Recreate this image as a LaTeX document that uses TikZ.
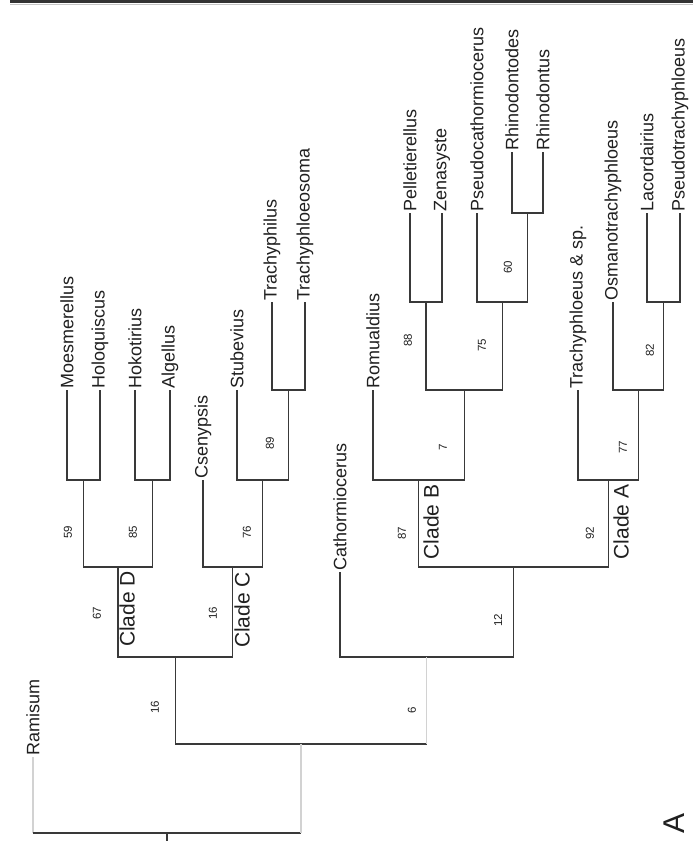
\documentclass[tikz,border=0pt]{standalone}
\usepackage{fontspec}
\setmainfont{Liberation Sans}
\tikzset{
  br/.style={draw=gray!45!black, line width=1.15pt},
  brf/.style={draw=gray!35, line width=1.1pt},
  taxon/.style={rotate=90, anchor=west, inner sep=1pt, font=\fontsize{18}{20}\selectfont, text=gray!25!black},
  boot/.style={rotate=90, inner sep=0pt, font=\fontsize{11.5}{12}\selectfont, text=gray!25!black},
  clade/.style={rotate=90, inner sep=0pt, font=\fontsize{21}{23}\selectfont, text=gray!25!black},
}
\begin{document}
\begin{tikzpicture}[x=1pt,y=-1pt]
\useasboundingbox (0,0) rectangle (693,852);
% top border
\draw[line width=3pt, gray!40!black] (10,1.5) -- (693,1.5);
\draw[line width=0.8pt, gray!45] (10,4.5) -- (693,4.5);

% taxa
\node[taxon] (ram) at (33,757) {Ramisum};
\node[taxon] (t1) at (67,390) {Moesmerellus};
\node[taxon] (t2) at (100,390) {Holoquiscus};
\node[taxon] (t3) at (135,390) {Hokotirius};
\node[taxon] (t4) at (170,390) {Algellus};
\node[taxon] (t5) at (203,480) {Csenypsis};
\node[taxon] (t6) at (237,390) {Stubevius};
\node[taxon] (t7) at (272,302) {Trachyphilus};
\node[taxon] (t8) at (305,302) {Trachyphloeosoma};
\node[taxon] (t9) at (340,572) {Cathormiocerus};
\node[taxon] (t10) at (373,390) {Romualdius};
\node[taxon] (t11) at (410,213) {Pelletierellus};
\node[taxon] (t12) at (442,213) {Zenasyste};
\node[taxon] (t13) at (477,213) {Pseudocathormiocerus};
\node[taxon] (t14) at (512,152) {Rhinodontodes};
\node[taxon] (t15) at (543,152) {Rhinodontus};
\node[taxon] (t16) at (578,390) {Trachyphloeus \& sp.};
\node[taxon] (t17) at (613,302) {Osmanotrachyphloeus};
\node[taxon] (t18) at (647,213) {Lacordairius};
\node[taxon] (t19) at (680,213) {Pseudotrachyphloeus};

% internal nodes
\coordinate (n59) at (83.5,480);
\coordinate (n85) at (152.5,480);
\coordinate (nD) at (118,567);
\coordinate (n89) at (288.5,390);
\coordinate (n76) at (262.5,480);
\coordinate (nC) at (232.75,567);
\coordinate (n16) at (175.4,657);
\coordinate (nRh) at (527.5,213);
\coordinate (n75) at (502.25,302);
\coordinate (n88) at (426,302);
\coordinate (n7) at (464.1,390);
\coordinate (nB) at (418.5,480);
\coordinate (nL) at (663.5,302);
\coordinate (n82) at (638.25,390);
\coordinate (n77) at (608.1,480);
\coordinate (nBA) at (513.3,567);
\coordinate (n12) at (426.6,657);
\coordinate (n6) at (301,744);
\coordinate (nroot) at (167,833);
\coordinate (rootend) at (167,841);

% Clade D
\draw[br] (t1.west) |- (n59) -| (t2.west);
\draw[br] (t3.west) |- (n85) -| (t4.west);
\draw[br] (n59) |- (nD) -| (n85);
% Clade C
\draw[br] (t7.west) |- (n89) -| (t8.west);
\draw[br] (t6.west) |- (n76) -| (n89);
\draw[br] (t5.west) |- (nC) -| (n76);
\draw[br] (nD) |- (n16) -| (nC);
% Clade B
\draw[br] (t14.west) |- (nRh) -| (t15.west);
\draw[br] (t13.west) |- (n75) -| (nRh);
\draw[br] (t11.west) |- (n88) -| (t12.west);
\draw[br] (n88) |- (n7) -| (n75);
\draw[br] (t10.west) |- (nB) -| (n7);
% Clade A
\draw[br] (t18.west) |- (nL) -| (t19.west);
\draw[br] (t17.west) |- (n82) -| (nL);
\draw[br] (t16.west) |- (n77) -| (n82);
% B + A
\draw[br] (nB) |- (nBA) -| (n77);
\draw[br] (t9.west) |- (n12) -| (nBA);
% ingroup root
\draw[br] (n16) |- (n6) -- (n6 -| n12);
\draw[brf] (n6 -| n12) -- (n12);
% base
\draw[brf] (ram.west) -- (ram.west |- nroot);
\draw[br] (ram.west |- nroot) -- (nroot) -- (n6 |- nroot);
\draw[brf] (n6 |- nroot) -- (n6);
\draw[br] (nroot) -- (rootend);

% support values
\node[boot] (b59) at (68,532) {59};
\node[boot] (b85) at (133,532) {85};
\node[boot] (b76) at (247,532) {76};
\node[boot] (b89) at (270,443) {89};
\node[boot] (b67) at (97,613) {67};
\node[boot] (b16c) at (213,613) {16};
\node[boot] (b16) at (155,707) {16};
\node[boot] (b6) at (412,710) {6};
\node[boot] (b12) at (498,620) {12};
\node[boot] (b87) at (402,533) {87};
\node[boot] (b92) at (590,533) {92};
\node[boot] (b7) at (443,447) {7};
\node[boot] (b88) at (408,340) {88};
\node[boot] (b75) at (482,345) {75};
\node[boot] (b60) at (508,267) {60};
\node[boot] (b77) at (623,447) {77};
\node[boot] (b82) at (650,350) {82};

% clade labels
\node[clade] (cD) at (127,609) {Clade D};
\node[clade] (cC) at (242,610) {Clade C};
\node[clade] (cB) at (431,522) {Clade B};
\node[clade] (cA) at (621,522) {Clade A};

\node[rotate=90, inner sep=0pt, font=\fontsize{30}{32}\selectfont, text=gray!25!black] (panel) at (674,823) {A};
\end{tikzpicture}
\end{document}
